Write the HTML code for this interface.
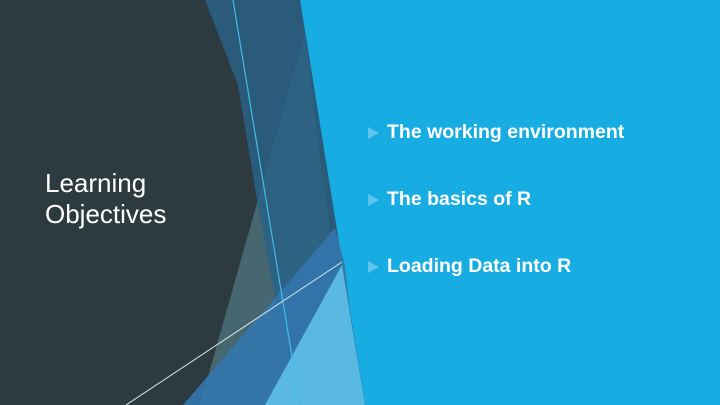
<!DOCTYPE html>
<html><head><style>
html,body{margin:0;padding:0}
body{width:720px;height:405px;position:relative;overflow:hidden;background:#2d3a40;font-family:"Liberation Sans",sans-serif;color:#fff}
svg{position:absolute;left:0;top:0}
.t{position:absolute;left:45px;font-size:26px;line-height:31px;top:168px}
.b{position:absolute;left:387px;font-size:19.5px;font-weight:bold;white-space:nowrap}
.a{position:absolute;left:368px;width:0;height:0;border-left:11px solid #5fc4ee;border-top:6px solid transparent;border-bottom:6px solid transparent}
</style></head><body>
<svg width="720" height="405" viewBox="0 0 720 405">
<polygon points="300,0 720,0 720,405 365,405" fill="#17ade3"/>
<polygon points="305,33 320,160 335,262 290,405 200,405" fill="#5b8c95" opacity="0.55"/>
<polygon points="205,0 300,0 342,262 330,300 300,405 290,405 275,300 257,200 238,85" fill="#2a6286" opacity="0.85"/>
<polygon points="183,405 335,228 345,265 360,405" fill="#3377ad" opacity="0.9"/>
<polygon points="265,405 342,265 365,405" fill="#5ab9e2"/>
<line x1="233" y1="0" x2="300" y2="405" stroke="#3fbde8" stroke-width="1.2"/>
<line x1="126" y1="405" x2="342" y2="262" stroke="#d8e4e8" stroke-width="1"/>
</svg>
<div class="t">Learning<br>Objectives</div>
<div class="a" style="top:127px"></div><div class="b" style="top:121px">The working environment</div>
<div class="a" style="top:194px"></div><div class="b" style="top:188px">The basics of R</div>
<div class="a" style="top:261px"></div><div class="b" style="top:255px">Loading Data into R</div>
</body></html>
